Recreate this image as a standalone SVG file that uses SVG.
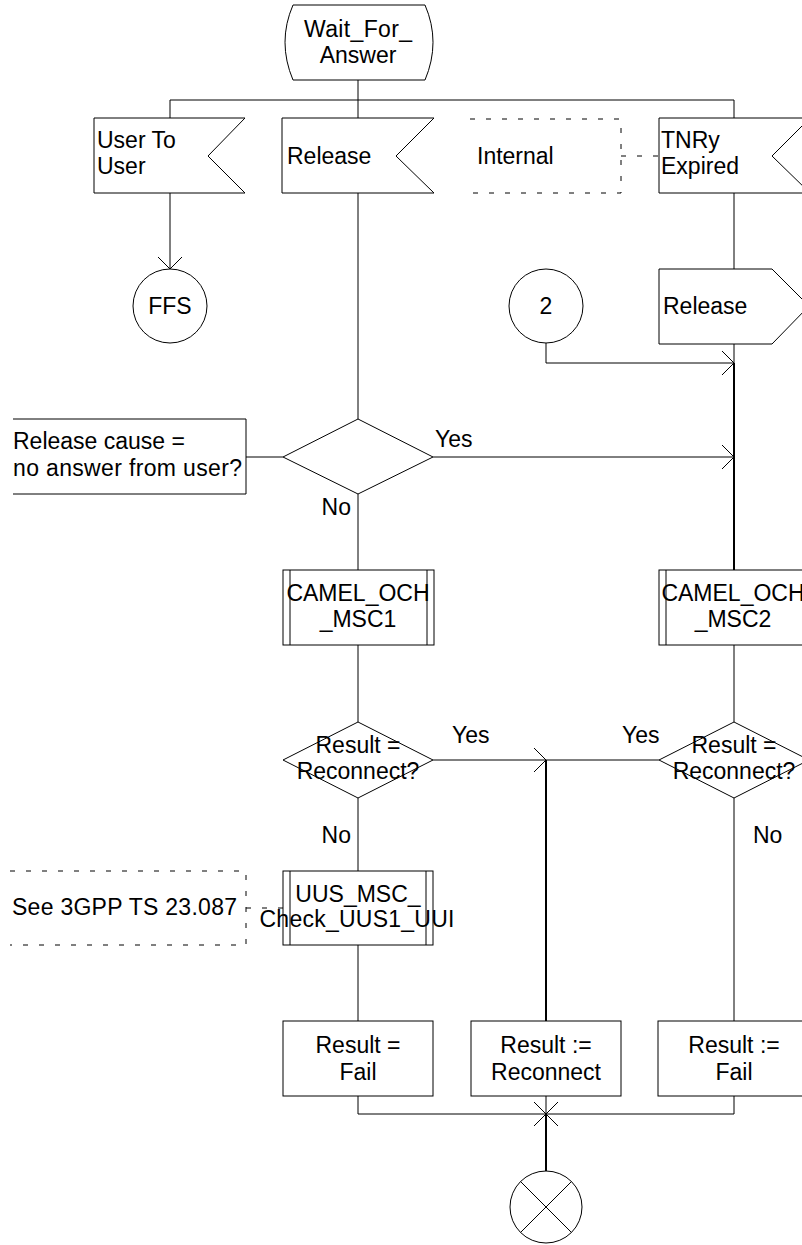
<svg xmlns="http://www.w3.org/2000/svg" width="802" height="1245" viewBox="0 0 802 1245">
<style>
  .s{fill:#fff;stroke:#000;stroke-width:1}
  .l{fill:none;stroke:#000;stroke-width:1}
  .k{fill:none;stroke:#000;stroke-width:2}
  .d{fill:none;stroke:#000;stroke-width:1;stroke-dasharray:5 11}
  text{font-family:"Liberation Sans",Arial,sans-serif;font-size:23px;fill:#000}
  .c{text-anchor:middle}
</style>
<rect width="802" height="1245" fill="#fff"/>
<g id="connectors">
  <path class="l" d="M358,80 V118 M170,100 H734 M170,100 V118 M734,100 V118"/>
  <path class="l" d="M170,193 V269 M158,257 L170,269 L182,257"/>
  <path class="l" d="M358,193 V419"/>
  <path class="l" d="M734,193 V269 M734,344 V363"/>
  <path class="l" d="M546,343 V363 H734 M722,351 L734,363 L722,375"/>
  <path class="k" d="M734,363 V570"/>
  <path class="l" d="M433,457 H734 M722,445 L734,457 L722,469"/>
  <path class="l" d="M246,457 H283"/>
  <path class="l" d="M358,494 V570 M358,645 V722 M734,645 V722"/>
  <path class="l" d="M433,760 H659 M534,748 L546,760 L534,772"/>
  <path class="k" d="M546,760 V1021"/>
  <path class="l" d="M358,798 V871 M358,945 V1021 M734,798 V1021"/>
  <path class="d" d="M246,908 H283 M621,156 H659"/>
  <path class="l" d="M358,1096 V1114 H734 V1096 M546,1096 V1114"/>
  <path class="l" d="M534,1102 L558,1126 M558,1102 L534,1126"/>
  <path class="k" d="M546,1114 V1171"/>
</g>
<g id="state_wait">
  <path class="s" d="M293,5 H425 Q441,42 425,80 H293 Q277,42 293,5 Z"/>
  <text class="c" x="358" y="37" textLength="108" lengthAdjust="spacing">Wait_For_</text>
  <text class="c" x="358" y="63">Answer</text>
</g>
<g id="sig_user">
  <path class="s" d="M94,118 H245 L208,156 L245,193 H94 Z"/>
  <text x="97" y="148">User To</text>
  <text x="97" y="174">User</text>
</g>
<g id="sig_release">
  <path class="s" d="M282,118 H434 L396,156 L434,193 H282 Z"/>
  <text x="287" y="164">Release</text>
</g>
<g id="comment_internal">
  <path class="d" d="M470,119 H621 V193 H470"/>
  <text x="477" y="164">Internal</text>
</g>
<g id="sig_tnry">
  <path class="s" d="M659,118 H810 L772,156 L810,193 H659 Z"/>
  <text x="661" y="148">TNRy</text>
  <text x="661" y="174">Expired</text>
</g>
<g id="ffs">
  <circle class="s" cx="170" cy="306" r="37"/>
  <text class="c" x="170" y="314">FFS</text>
</g>
<g id="conn_2">
  <circle class="s" cx="546" cy="306" r="37"/>
  <text class="c" x="546" y="314">2</text>
</g>
<g id="out_release">
  <path class="s" d="M659,269 H772 L809,306 L772,344 H659 Z"/>
  <text x="663" y="314">Release</text>
</g>
<g id="comment_cause">
  <path class="l" d="M13,419 H246 V494 H13"/>
  <text x="13" y="449">Release cause =</text>
  <text x="13" y="476" textLength="229" lengthAdjust="spacing">no answer from user?</text>
</g>
<g id="dec_cause">
  <path class="s" d="M358,419 L433,457 L358,494 L283,457 Z"/>
  <text x="435" y="447">Yes</text>
  <text x="351" y="515" text-anchor="end">No</text>
</g>
<g id="proc_och1">
  <rect class="s" x="283" y="570" width="151" height="75"/>
  <path class="l" d="M290,570 V645 M427,570 V645"/>
  <text class="c" x="358" y="601">CAMEL_OCH</text>
  <text class="c" x="358" y="627">_MSC1</text>
</g>
<g id="proc_och2">
  <rect class="s" x="659" y="570" width="151" height="75"/>
  <path class="l" d="M666,570 V645 M803,570 V645"/>
  <text class="c" x="733" y="601">CAMEL_OCH</text>
  <text class="c" x="733" y="627">_MSC2</text>
</g>
<g id="dec_res1">
  <path class="s" d="M358,722 L433,760 L358,798 L283,760 Z"/>
  <text class="c" x="358" y="753">Result =</text>
  <text class="c" x="358" y="779">Reconnect?</text>
  <text x="452" y="743">Yes</text>
  <text x="351" y="843" text-anchor="end">No</text>
</g>
<g id="dec_res2">
  <path class="s" d="M734,722 L809,760 L734,798 L659,760 Z"/>
  <text class="c" x="734" y="753">Result =</text>
  <text class="c" x="734" y="779">Reconnect?</text>
  <text x="622" y="743">Yes</text>
  <text x="753" y="843">No</text>
</g>
<g id="comment_uus">
  <path class="d" d="M10,871 H246 V945 H10"/>
  <text x="12" y="915" textLength="225" lengthAdjust="spacing">See 3GPP TS 23.087</text>
</g>
<g id="proc_uus">
  <rect class="s" x="283" y="871" width="150" height="74"/>
  <path class="l" d="M290,871 V945 M426,871 V945"/>
  <text class="c" x="358" y="902">UUS_MSC_</text>
  <text class="c" x="357" y="927" textLength="195" lengthAdjust="spacing">Check_UUS1_UUI</text>
</g>
<g id="task_fail1">
  <rect class="s" x="283" y="1021" width="150" height="75"/>
  <text class="c" x="358" y="1053">Result =</text>
  <text class="c" x="358" y="1080">Fail</text>
</g>
<g id="task_reconnect">
  <rect class="s" x="471" y="1021" width="150" height="75"/>
  <text class="c" x="546" y="1053">Result :=</text>
  <text class="c" x="546" y="1080">Reconnect</text>
</g>
<g id="task_fail2">
  <rect class="s" x="658" y="1021" width="151" height="75"/>
  <text class="c" x="734" y="1053">Result :=</text>
  <text class="c" x="734" y="1080">Fail</text>
</g>
<g id="return">
  <circle class="s" cx="546" cy="1207" r="36"/>
  <path class="l" d="M520.5,1181.5 L571.5,1232.5 M571.5,1181.5 L520.5,1232.5"/>
</g>
</svg>
